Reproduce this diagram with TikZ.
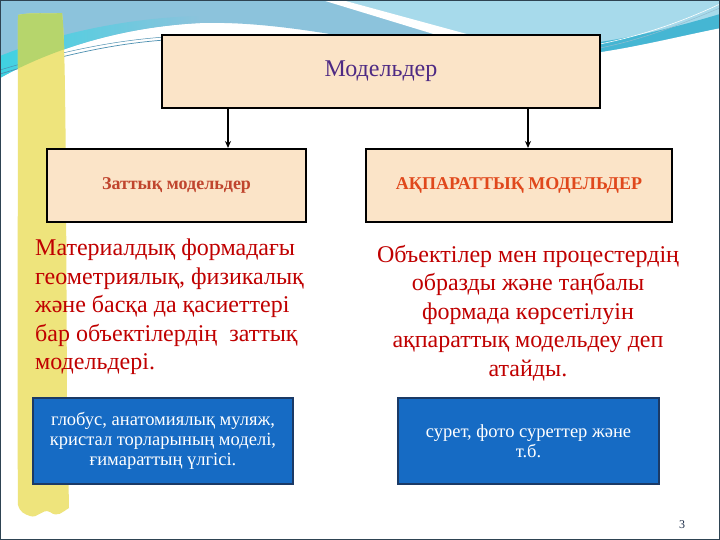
\documentclass[tikz,border=0pt]{standalone}
\usepackage{fontspec}
\setmainfont{Liberation Serif}
\usetikzlibrary{arrows.meta}
\definecolor{peach}{HTML}{FBE4C8}
\definecolor{topviolet}{HTML}{4E2A84}
\definecolor{boxred}{HTML}{C0452E}
\definecolor{boxorange}{HTML}{E0481C}
\definecolor{parared}{HTML}{C00000}
\definecolor{bluefill}{HTML}{166BC4}
\definecolor{bluedraw}{HTML}{1B3A66}
\definecolor{bgblue}{HTML}{8CC3DC}
\definecolor{bglight}{HTML}{A7DAEB}
\definecolor{bgcyan}{HTML}{3FD2E2}
\definecolor{bgteal}{HTML}{45B6D3}
\definecolor{stripey}{HTML}{EEE47C}
\definecolor{stripeg}{HTML}{B6D56C}
\definecolor{framec}{HTML}{2E4352}
\definecolor{thinl}{HTML}{4C8FB0}
\definecolor{pagec}{HTML}{1F2F4A}
\tikzset{
  peachbox/.style={draw=black, line width=2pt, fill=peach, inner sep=0pt},
  bluebox/.style={draw=bluedraw, line width=1.5pt, fill=bluefill, inner sep=0pt, text=white, align=center, font=\fontsize{18.5}{20}\selectfont},
  ptext/.style={inner sep=0pt, text=parared, font=\fontsize{24}{28.5}\selectfont},
  arr/.style={line width=1.6pt, -{Stealth[length=7pt,width=6pt]}},
}
\begin{document}
\begin{tikzpicture}[x=1pt,y=-1pt]
\useasboundingbox (0,0) rectangle (720,540);
\fill[white] (0,0) rectangle (720,540);
% top decoration
\def\bluepath{(0,0) -- (720,0) -- (720,28) .. controls (680,36) and (640,46) .. (600,52) -- (600,36) -- (330,34) .. controls (280,26) and (240,22) .. (200,23) .. controls (120,27) and (50,50) .. (0,78) -- cycle}
\fill[bgblue] \bluepath;
\fill[bglight] (342,0) -- (720,0) -- (720,28) .. controls (680,36) and (640,46) .. (600,52) -- (600,36) -- (472,36) -- cycle;
\fill[white] (322,0) -- (342,0) -- (474,36) -- (440,36) -- cycle;
\shade[left color=bgcyan, right color=bgblue] (0,78) .. controls (50,50) and (120,27) .. (200,23) -- (200,16) .. controls (120,18) and (50,36) .. (0,56) -- cycle;
\fill[bgteal] (600,52) .. controls (640,46) and (680,36) .. (720,28) -- (720,14) .. controls (680,26) and (640,36) .. (600,42) -- cycle;
\draw[thinl, line width=0.7pt] (0,74) .. controls (60,56) and (110,44) .. (165,40);
\draw[thinl, line width=0.5pt] (0,70) .. controls (60,52) and (110,41) .. (165,37);
\draw[thinl!60, line width=0.5pt] (600,48) .. controls (650,38) and (690,20) .. (720,8);
\draw[white, line width=0.6pt] (600,44) .. controls (650,34) and (690,18) .. (720,4);
% yellow stripe
\def\stripepath{(18,15) .. controls (30,12) and (50,14) .. (62,13) .. controls (66,40) and (66,200) .. (67,400) -- (69,508) .. controls (62,512) and (58,518) .. (50,512) .. controls (42,508) and (38,519) .. (30,516) .. controls (24,514) and (20,512) .. (18,505) .. controls (17,400) and (18,200) .. (18,15) -- cycle}
\fill[stripey] \stripepath;
\begin{scope}
  \clip \bluepath;
  \fill[stripeg] \stripepath;
\end{scope}
% boxes
\node[peachbox, minimum width=438pt, minimum height=73pt, text=topviolet, font=\fontsize{24}{28}\selectfont] (top) at (381,71.5) {Модельдер};
\node[peachbox, minimum width=259pt, minimum height=73pt, text=boxred, font=\fontsize{18}{22}\selectfont\bfseries] (left) at (176.5,185.5) {Заттық модельдер};
\node[peachbox, minimum width=306pt, minimum height=73pt, text=boxorange, font=\fontsize{18}{22}\selectfont\bfseries] (right) at (519,185.5) {АҚПАРАТТЫҚ МОДЕЛЬДЕР};
\coordinate (a1) at (228,0);
\coordinate (a2) at (528,0);
\draw[arr] (a1 |- top.south) -- (a1 |- left.north);
\draw[arr] (a2 |- top.south) -- (a2 |- right.north);
% paragraphs
\node[ptext, anchor=west, align=left] (ltext) at (35,307) {Материалдық формадағы\\геометриялық, физикалық\\және басқа да қасиеттері\\бар объектілердің\ \ заттық\\модельдері.};
\node[ptext, align=center] (rtext) at (528,313) {Объектілер мен процестердің\\образды және таңбалы\\формада көрсетілуін\\ақпараттық модельдеу деп\\атайды.};
% blue boxes
\node[bluebox, minimum width=260pt, minimum height=86pt] (lex) at (163,441) {глобус, анатомиялық муляж,\\кристал торларының моделі,\\ғимараттың үлгісі.};
\node[bluebox, minimum width=261pt, minimum height=86pt] (rex) at (528.5,441) {сурет, фото суреттер және\\т.б.};
\node[text=pagec, font=\fontsize{12}{14}\selectfont, inner sep=0pt] (page) at (682,525) {3};
% frame
\draw[framec, line width=2pt] (0,0) rectangle (720,540);
\end{tikzpicture}
\end{document}
